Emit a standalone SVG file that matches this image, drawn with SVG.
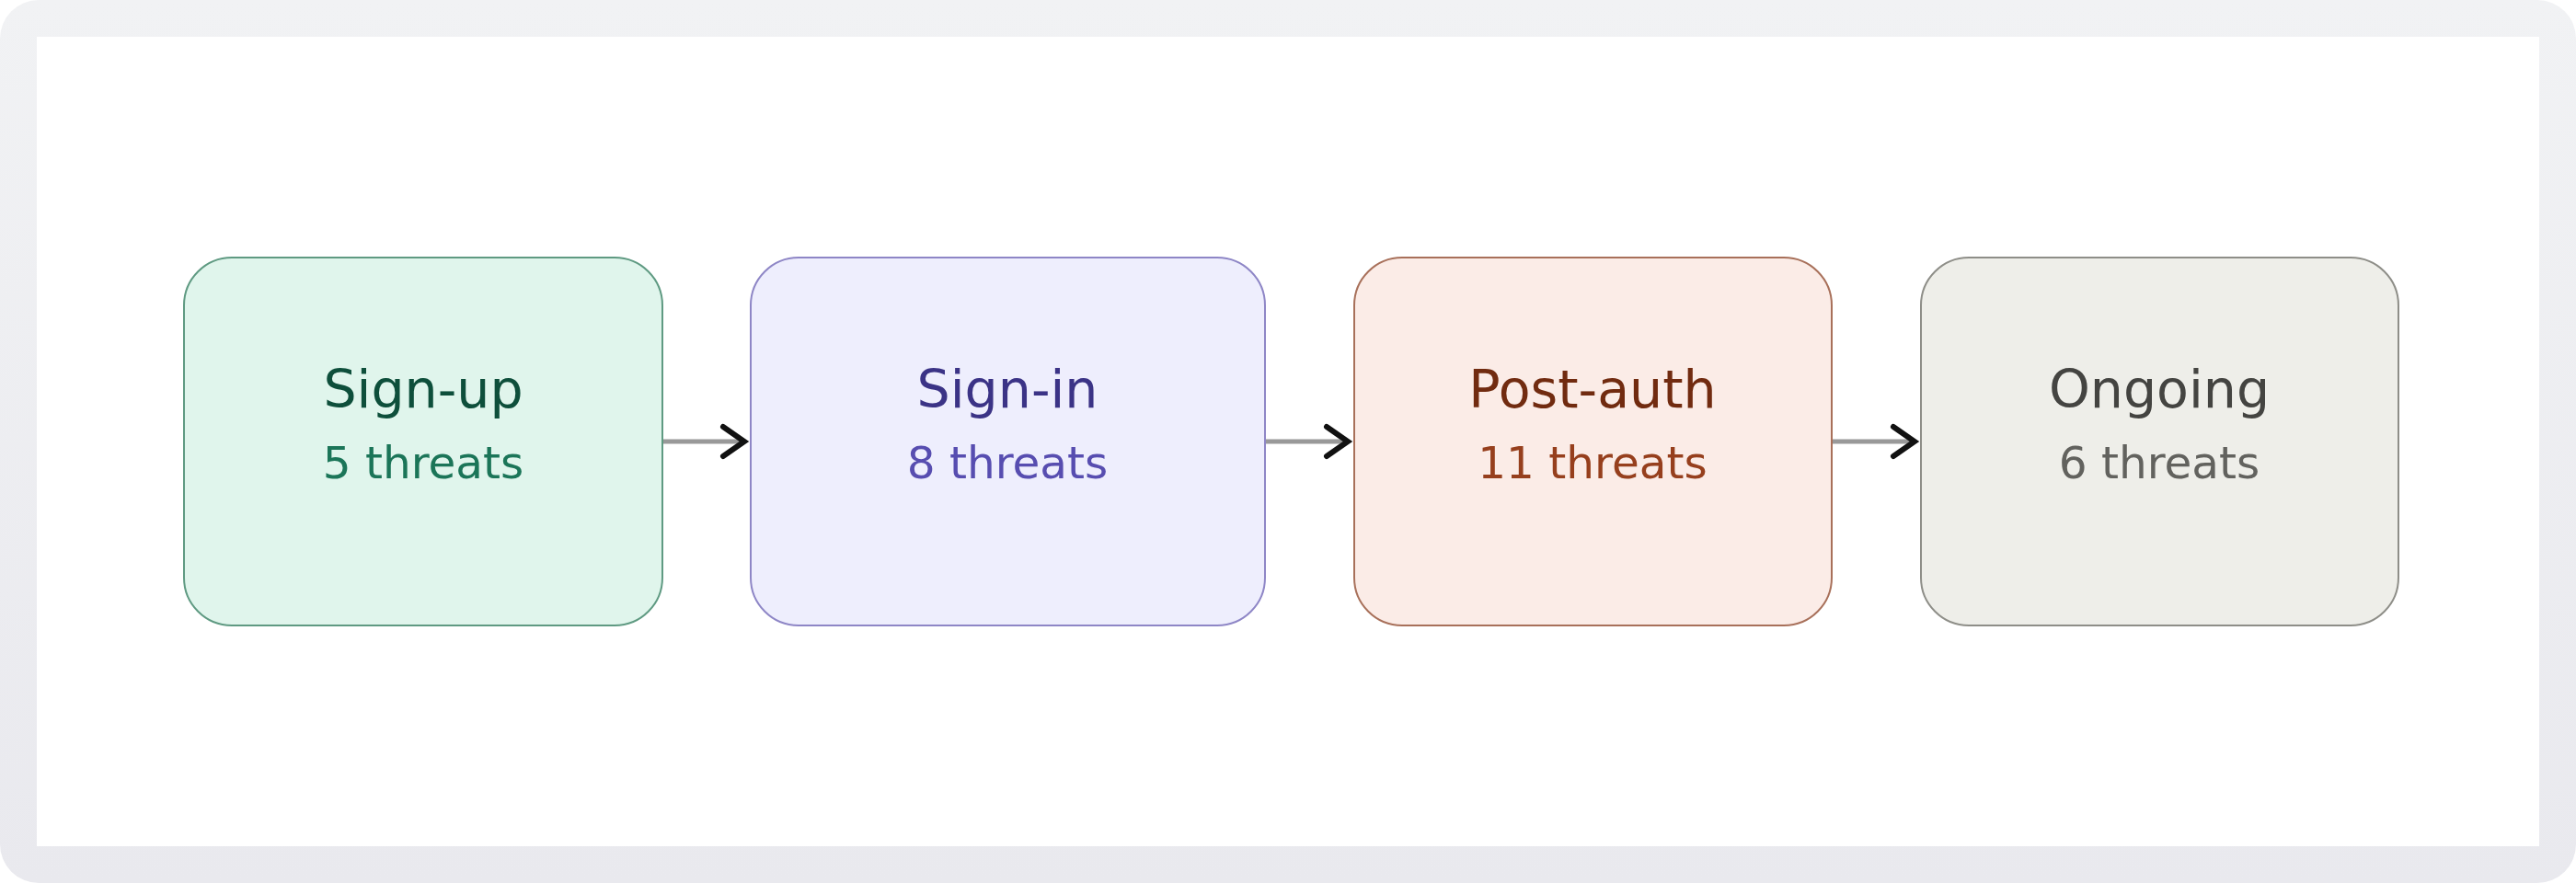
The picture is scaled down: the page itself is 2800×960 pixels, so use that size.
<svg xmlns="http://www.w3.org/2000/svg" width="2800" height="960" viewBox="0 0 2800 960">
  <defs>
    <linearGradient id="bg" x1="0" y1="0" x2="0" y2="1">
      <stop offset="0" stop-color="#f1f2f4"/>
      <stop offset="1" stop-color="#e9e9ee"/>
    </linearGradient>
  </defs>
  <style>
    .title { font-family: "DejaVu Sans", "Noto Sans", sans-serif; font-size: 57px; text-anchor: middle; }
    .sub { font-family: "DejaVu Sans", "Noto Sans", sans-serif; font-size: 48.5px; text-anchor: middle; }
    .box { stroke-width: 2; }
    .conn { stroke: #999999; stroke-width: 5; fill: none; }
    .head { stroke: #111111; stroke-width: 6; fill: none; stroke-linecap: round; stroke-linejoin: miter; }
  </style>
  <rect x="0" y="0" width="2800" height="960" fill="#ffffff"/>
  <rect x="0" y="0" width="2800" height="960" rx="42" ry="42" fill="url(#bg)"/>
  <rect x="40" y="40" width="2720" height="880" fill="#ffffff"/>

  <g id="connectors">
    <line class="conn" x1="721" y1="480" x2="806" y2="480"/>
    <path class="head" d="M786,464 L809,480 L786,496"/>
    <line class="conn" x1="1376" y1="480" x2="1462" y2="480"/>
    <path class="head" d="M1442,464 L1465,480 L1442,496"/>
    <line class="conn" x1="1992" y1="480" x2="2078" y2="480"/>
    <path class="head" d="M2058,464 L2081,480 L2058,496"/>
  </g>

  <g id="node-signup">
    <rect class="box" x="200" y="280" width="520" height="400" rx="52" ry="52" fill="#e0f5ec" stroke="#5f9a82"/>
    <text class="title" x="460" y="443" fill="#0e4f3b">Sign-up</text>
    <text class="sub" x="460" y="520" fill="#1b7558">5 threats</text>
  </g>

  <g id="node-signin">
    <rect class="box" x="816" y="280" width="559" height="400" rx="52" ry="52" fill="#eeeefd" stroke="#8e86c6"/>
    <text class="title" x="1095" y="443" fill="#3b3386">Sign-in</text>
    <text class="sub" x="1095" y="520" fill="#574db0">8 threats</text>
  </g>

  <g id="node-postauth">
    <rect class="box" x="1472" y="280" width="519" height="400" rx="52" ry="52" fill="#fbece7" stroke="#a8705a"/>
    <text class="title" x="1731" y="443" fill="#712b10">Post-auth</text>
    <text class="sub" x="1731" y="520" fill="#963f1d">11 threats</text>
  </g>

  <g id="node-ongoing">
    <rect class="box" x="2088" y="280" width="519" height="400" rx="52" ry="52" fill="#eeeee9" stroke="#8e8e88"/>
    <text class="title" x="2347" y="443" fill="#444441">Ongoing</text>
    <text class="sub" x="2347" y="520" fill="#62625e">6 threats</text>
  </g>
</svg>
